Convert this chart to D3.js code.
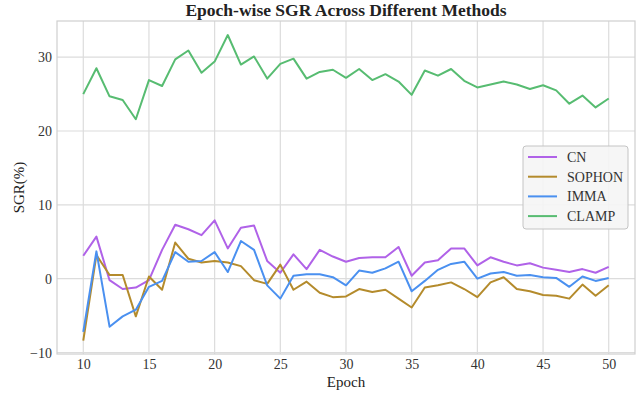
<!DOCTYPE html>
<html>
<head>
  <meta charset="utf-8">
  <title>Epoch-wise SGR</title>
  <script src="https://cdn.jsdelivr.net/npm/d3@7"></script>
  <style type="text/css">
    body { margin: 0; background: #fff; }
    svg { display: block; font-family: "Liberation Serif", "DejaVu Serif", serif; }
    svg text { font-family: "Liberation Serif", "DejaVu Serif", serif; }
  </style>
</head>
<body>
<div id="chart"></div>
<script type="text/javascript">
  // data
  var epochs = d3.range(10, 51);
  var cn = [3.1, 5.7, -0.2, -1.4, -1.2, -0.2, 3.9, 7.3, 6.7, 5.9, 7.9, 4.1, 6.9, 7.2, 2.4, 0.8, 3.3, 1.3, 3.9, 3.0,
            2.3, 2.8, 2.9, 2.9, 4.3, 0.4, 2.2, 2.5, 4.1, 4.1, 1.8, 2.9, 2.3, 1.8, 2.1, 1.5, 1.2, 0.9, 1.3, 0.8, 1.6];
  var sophon = [-8.4, 3.2, 0.5, 0.5, -5.1, 0.3, -1.5, 4.9, 2.7, 2.2, 2.4, 2.2, 1.7, -0.2, -0.7, 1.9, -1.5, -0.4, -1.9, -2.5,
                -2.4, -1.4, -1.8, -1.5, -2.7, -3.9, -1.2, -0.9, -0.5, -1.4, -2.5, -0.5, 0.2, -1.4, -1.7, -2.2, -2.3, -2.7, -0.8, -2.3, -0.9];
  var imma = [-7.2, 3.7, -6.5, -5.1, -4.2, -1.1, -0.3, 3.6, 2.3, 2.4, 3.6, 0.9, 5.1, 3.9, -0.9, -2.7, 0.4, 0.6, 0.6, 0.2,
              -0.9, 1.1, 0.8, 1.4, 2.3, -1.7, -0.3, 1.2, 2.0, 2.3, 0.0, 0.7, 0.9, 0.4, 0.5, 0.2, 0.1, -1.1, 0.3, -0.3, 0.1];
  var clamp = [25.0, 28.5, 24.7, 24.2, 21.6, 26.9, 26.1, 29.7, 30.9, 27.9, 29.4, 33.0, 29.0, 30.1, 27.1, 29.1, 29.8, 27.1, 28.0, 28.3,
               27.2, 28.4, 26.9, 27.7, 26.7, 24.9, 28.2, 27.5, 28.4, 26.8, 25.9, 26.3, 26.7, 26.3, 25.7, 26.2, 25.5, 23.7, 24.8, 23.2, 24.4];
  var xTicks = [10, 15, 20, 25, 30, 35, 40, 45, 50];
  var yTicks = [-10, 0, 10, 20, 30];

  var series = [
    { name: 'CN', values: cn, color: '#b062e8' },
    { name: 'SOPHON', values: sophon, color: '#b48b2c' },
    { name: 'IMMA', values: imma, color: '#4a90f0' },
    { name: 'CLAMP', values: clamp, color: '#57bc71' }
  ];

  var width = 640, height = 393;
  var margin = { top: 21, right: 5, bottom: 39, left: 57 };
  var serif = '"Liberation Serif", "DejaVu Serif", serif';

  var svg = d3.select('#chart')
    .append('svg')
    .attr('width', width)
    .attr('height', height);

  var x = d3.scaleLinear().domain([8, 52]).range([margin.left, width - margin.right]);
  var y = d3.scaleLinear().domain([-10.2, 34.9]).range([height - margin.bottom, margin.top]);

  // grid
  svg.append('g').selectAll('line.vx').data(xTicks).enter().append('line')
    .attr('x1', function(d) { return x(d); }).attr('x2', function(d) { return x(d); })
    .attr('y1', margin.top).attr('y2', height - margin.bottom)
    .attr('stroke', '#dcdcdc').attr('stroke-width', 1.2);
  svg.append('g').selectAll('line.hy').data(yTicks).enter().append('line')
    .attr('y1', function(d) { return y(d); }).attr('y2', function(d) { return y(d); })
    .attr('x1', margin.left).attr('x2', width - margin.right)
    .attr('stroke', '#dcdcdc').attr('stroke-width', 1.2);

  // frame
  svg.append('rect')
    .attr('x', margin.left).attr('y', margin.top)
    .attr('width', width - margin.left - margin.right)
    .attr('height', height - margin.top - margin.bottom)
    .attr('fill', 'none').attr('stroke', '#cfcfcf').attr('stroke-width', 1.2);

  // axes (labels only)
  var xAxis = svg.append('g')
    .attr('transform', 'translate(0,' + (height - margin.bottom) + ')')
    .call(d3.axisBottom(x).tickValues(xTicks).tickSize(0).tickPadding(5));
  var yAxis = svg.append('g')
    .attr('transform', 'translate(' + margin.left + ',0)')
    .call(d3.axisLeft(y).tickValues(yTicks).tickSize(0).tickPadding(5));
  [xAxis, yAxis].forEach(function(a) {
    a.attr('font-family', null).attr('font-size', null);
    a.select('.domain').remove();
    a.selectAll('text')
      .style('font-family', serif)
      .style('font-size', '14px')
      .attr('fill', '#333');
  });

  // lines
  var line = d3.line()
    .x(function(d, i) { return x(epochs[i]); })
    .y(function(d) { return y(d); });

  svg.append('g').selectAll('path').data(series).enter().append('path')
    .attr('d', function(s) { return line(s.values); })
    .attr('fill', 'none')
    .attr('stroke', function(s) { return s.color; })
    .attr('stroke-width', 2)
    .attr('stroke-linejoin', 'round');

  // title and labels
  svg.append('text')
    .attr('x', (margin.left + width - margin.right) / 2)
    .attr('y', 16)
    .attr('text-anchor', 'middle')
    .attr('font-size', 17.5)
    .attr('font-weight', 'bold')
    .attr('fill', '#222')
    .text('Epoch-wise SGR Across Different Methods');

  svg.append('text')
    .attr('x', (margin.left + width - margin.right) / 2)
    .attr('y', 387)
    .attr('text-anchor', 'middle')
    .attr('font-size', 15)
    .attr('fill', '#222')
    .text('Epoch');

  svg.append('text')
    .attr('transform', 'translate(24,' + ((margin.top + height - margin.bottom) / 2) + ') rotate(-90)')
    .attr('text-anchor', 'middle')
    .attr('font-size', 15)
    .attr('fill', '#222')
    .text('SGR(%)');

  // legend
  var lg = svg.append('g').attr('transform', 'translate(523,146)');
  lg.append('rect')
    .attr('width', 105).attr('height', 83)
    .attr('rx', 3)
    .attr('fill', '#f5f5f5').attr('fill-opacity', 0.9)
    .attr('stroke', '#c4c4c4');
  var item = lg.selectAll('g.item').data(series).enter().append('g')
    .attr('transform', function(d, i) { return 'translate(0,' + (11 + i * 19.7) + ')'; });
  item.append('line')
    .attr('x1', 5).attr('x2', 34)
    .attr('stroke', function(d) { return d.color; })
    .attr('stroke-width', 2);
  item.append('text')
    .attr('x', 44).attr('y', 5)
    .attr('font-size', 14)
    .attr('fill', '#333')
    .text(function(d) { return d.name; });
</script>
</body>
</html>
